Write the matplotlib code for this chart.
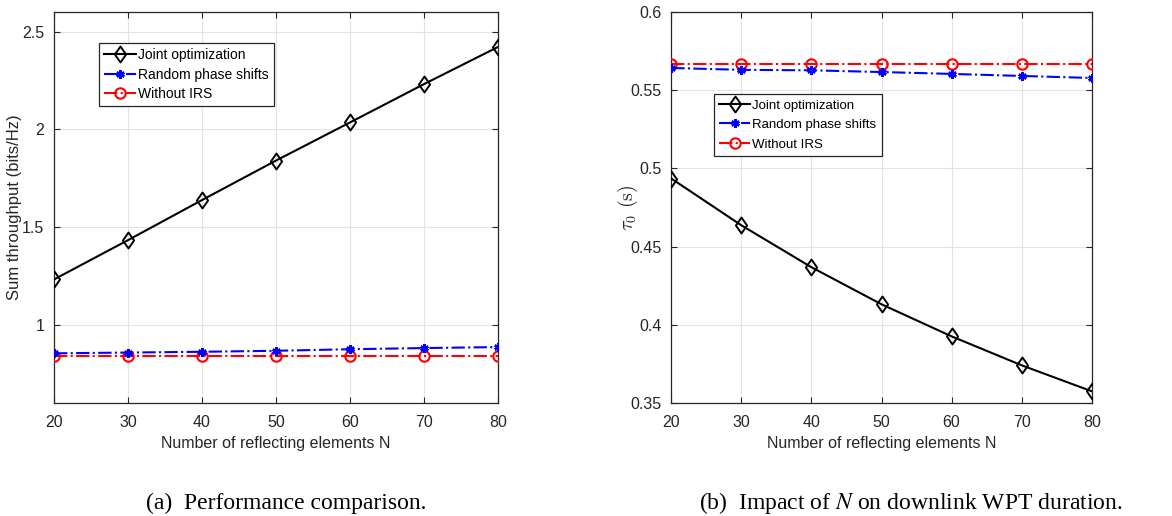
import matplotlib.pyplot as plt
from matplotlib.path import Path
import numpy as np

N = [20, 30, 40, 50, 60, 70, 80]

# (a) sum throughput (bits/Hz)
thrJoint = [1.232, 1.433, 1.638, 1.840, 2.035, 2.231, 2.421]
thrRandom = [0.854, 0.858, 0.862, 0.867, 0.875, 0.881, 0.886]
thrNoIrs = [0.840, 0.840, 0.840, 0.840, 0.840, 0.840, 0.840]

# (b) downlink WPT duration tau_0 (s)
tauJoint = [0.4935, 0.4636, 0.4368, 0.4131, 0.3926, 0.3741, 0.3575]
tauRandom = [0.5642, 0.5630, 0.5627, 0.5616, 0.5604, 0.5591, 0.5578]
tauNoIrs = [0.567, 0.567, 0.567, 0.567, 0.567, 0.567, 0.567]

labels = ['Joint optimization', 'Random phase shifts', 'Without IRS']

plt.rcParams['font.family'] = ['Liberation Sans', 'DejaVu Sans']
plt.rcParams['mathtext.fontset'] = 'cm'

# matlab-like diamond (a bit taller than wide)
diamond = Path([(0, 1), (0.7, 0), (0, -1), (-0.7, 0), (0, 1)],
               [Path.MOVETO, Path.LINETO, Path.LINETO, Path.LINETO, Path.CLOSEPOLY])

fig = plt.figure(figsize=(11.72, 5.16), dpi=100)
axA = fig.add_axes([0.0461, 0.219, 0.3788, 0.7578])
axB = fig.add_axes([0.5728, 0.219, 0.3587, 0.7578])

def drawPanel(ax, joint, rand, noirs):
    ax.plot(N, joint, color='black', lw=1.5, marker=diamond, ms=11.5, mfc='none',
            mec='black', mew=1.4, label=labels[0], zorder=5)
    ax.plot(N, rand, color='blue', lw=1.5, ls='-.', marker=(6, 2, 0), ms=6,
            mfc='blue', mec='blue', mew=1.8, label=labels[1], zorder=4)
    ax.plot(N, noirs, color='red', lw=1.5, ls='-.', marker='o', ms=7.5, mfc='none',
            mec='red', mew=1.5, label=labels[2], zorder=3)
    ax.set_xlim(20, 80)
    ax.set_xticks(N)
    ax.grid(True, color='#e3e3e3', lw=0.8)
    ax.set_axisbelow(True)
    ax.tick_params(direction='in', top=True, right=True, labelsize=11.5, length=4,
                   width=0.8, pad=7, colors='#262626')
    ax.tick_params(axis='x', pad=9)
    for s in ax.spines.values():
        s.set_linewidth(0.9)
        s.set_color('#262626')
    ax.set_xlabel('Number of reflecting elements N', fontsize=11.5, labelpad=4,
                  color='#262626')

drawPanel(axA, thrJoint, thrRandom, thrNoIrs)
axA.set_ylim(0.6, 2.6)
axA.set_yticks([1, 1.5, 2, 2.5])
axA.set_yticklabels(['1', '1.5', '2', '2.5'])
axA.set_ylabel('Sum throughput (bits/Hz)', fontsize=12, color='#262626')
axA.yaxis.set_label_coords(-0.072, 0.5)
legA = axA.legend(loc='upper left', bbox_to_anchor=(0.101, 0.92), fontsize=10,
                  fancybox=False, edgecolor='#262626', framealpha=1,
                  handlelength=2.3, handletextpad=0.2, borderpad=0.35,
                  labelspacing=0.4, borderaxespad=0)
legA.get_frame().set_linewidth(0.9)

drawPanel(axB, tauJoint, tauRandom, tauNoIrs)
axB.set_ylim(0.35, 0.6)
axB.set_yticks([0.35, 0.4, 0.45, 0.5, 0.55, 0.6])
axB.set_yticklabels(['0.35', '0.4', '0.45', '0.5', '0.55', '0.6'])
axB.set_ylabel(r'$\tau_0\ \mathrm{(s)}$', fontsize=14.5, color='#262626')
axB.yaxis.set_label_coords(-0.074, 0.5)
legB = axB.legend(loc='upper left', bbox_to_anchor=(0.102, 0.79), fontsize=9.5,
                  fancybox=False, edgecolor='#262626', framealpha=1,
                  handlelength=2.3, handletextpad=0.2, borderpad=0.4,
                  labelspacing=0.55, borderaxespad=0)
legB.get_frame().set_linewidth(0.9)

capFont = ['Liberation Serif', 'DejaVu Serif']
fig.text(0.244, 0.025, '(a)  Performance comparison.', ha='center', va='center',
         fontsize=17, family=capFont)
fig.text(0.777, 0.025, r'(b)  Impact of $N$ on downlink WPT duration.',
         ha='center', va='center', fontsize=17, family=capFont,
         math_fontfamily='stix')

fig.savefig('out.png', dpi=100)
